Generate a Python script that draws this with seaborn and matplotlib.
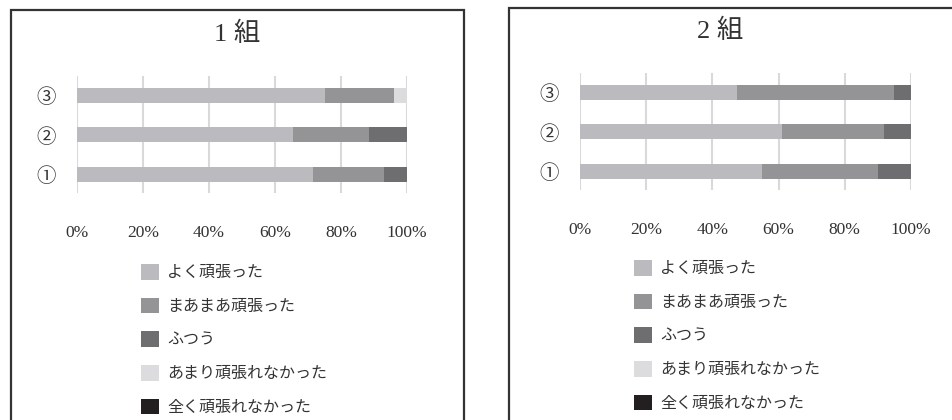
import numpy as np
import pandas as pd
import seaborn as sns
import matplotlib
matplotlib.use("Agg")
import matplotlib.pyplot as plt
from matplotlib.patches import Patch, Rectangle

# ---- data -------------------------------------------------------------
questions = ["③", "②", "①"]
answers = ["よく頑張った", "まあまあ頑張った", "ふつう", "あまり頑張れなかった", "全く頑張れなかった"]
colors = ["#BBBBBF", "#949497", "#6E6E70", "#DCDCDE", "#231F20"]

# percent of answers per question (rows follow `questions`)
class1_yoku = [75.2, 65.5, 71.5]
class1_maamaa = [20.8, 23.0, 21.6]
class1_futsuu = [0.0, 11.5, 6.9]
class1_amari = [4.0, 0.0, 0.0]
class1_mattaku = [0.0, 0.0, 0.0]

class2_yoku = [47.3, 61.1, 55.0]
class2_maamaa = [47.6, 30.7, 35.0]
class2_futsuu = [5.1, 8.2, 10.0]
class2_amari = [0.0, 0.0, 0.0]
class2_mattaku = [0.0, 0.0, 0.0]

titles = ["1 組", "2 組"]
xtick_values = [0, 20, 40, 60, 80, 100]
xtick_labels = ["0%", "20%", "40%", "60%", "80%", "100%"]

# ---- styling ----------------------------------------------------------
sns.set_theme(style="white")
plt.rcParams["font.family"] = ["Liberation Serif", "Noto Sans CJK JP", "DejaVu Sans"]

W, H = 952, 420
fig = plt.figure(figsize=(W / 100, H / 100), dpi=100)


def fig_rect(x0, y0, x1, y1):
    """pixel box (top-left origin) -> figure fraction rect"""
    return [x0 / W, 1 - y1 / H, (x1 - x0) / W, (y1 - y0) / H]


def draw_panel(ax, series, title, legend_xy, title_xy):
    df = pd.DataFrame({"q": questions})
    cum = np.zeros(len(questions))
    cums = []
    for s in series:
        cum = cum + np.array(s)
        cums.append(cum.copy())
    # stacked bars: draw cumulative totals from the widest layer down
    for i in reversed(range(len(series))):
        d = df.copy()
        d["v"] = cums[i]
        sns.barplot(data=d, x="v", y="q", order=questions, orient="h",
                    color=colors[i], width=0.38, ax=ax, errorbar=None,
                    saturation=1, linewidth=0, zorder=3)
    ax.set_xlim(0, 100)
    ax.set_ylim(2.48, -0.49)
    ax.set_xticks(xtick_values)
    ax.set_xticklabels(xtick_labels, fontsize=12.5, color="#333333")
    ax.tick_params(axis="x", length=0, pad=23)
    ax.tick_params(axis="y", length=0, pad=15, labelsize=14, labelcolor="#333333")
    for lab in ax.get_yticklabels():
        lab.set_family(["Noto Sans CJK JP"])
    ax.set_xlabel("")
    ax.set_ylabel("")
    ax.grid(axis="x", color="#D9D9D9", linewidth=1.5, zorder=0)
    ax.grid(axis="y", visible=False)
    for sp in ax.spines.values():
        sp.set_visible(False)
    fig.text(title_xy[0] / W, 1 - title_xy[1] / H, title, ha="center", va="center",
             fontsize=19, color="#333333", family=["Liberation Serif", "Noto Sans CJK JP"])
    handles = [Patch(facecolor=c, edgecolor="none") for c in colors]
    fig.legend(handles, answers, loc="upper left",
               bbox_to_anchor=(legend_xy[0] / W, 1 - legend_xy[1] / H),
               frameon=False, handlelength=1.13, handleheight=1.13,
               handletextpad=0.5, labelspacing=1.03, borderpad=0, borderaxespad=0,
               prop={"family": ["Noto Sans CJK JP"], "size": 11.5},
               labelcolor="#333333")


ax1 = fig.add_axes(fig_rect(77, 76, 407, 193))
draw_panel(ax1, [class1_yoku, class1_maamaa, class1_futsuu, class1_amari, class1_mattaku],
           titles[0], (141, 264), (237, 34))

ax2 = fig.add_axes(fig_rect(580, 73, 911, 190))
draw_panel(ax2, [class2_yoku, class2_maamaa, class2_futsuu, class2_amari, class2_mattaku],
           titles[1], (634, 260), (720, 31))

# panel frames
for x0, y0, x1, y1 in [(10.5, 10, 464, 440), (508.5, 8, 980, 440)]:
    fig.patches.append(Rectangle((x0 / W, 1 - y1 / H), (x1 - x0) / W, (y1 - y0) / H,
                                 transform=fig.transFigure, fill=False,
                                 edgecolor="#333333", linewidth=1.6))

fig.savefig("out.png", dpi=100)
